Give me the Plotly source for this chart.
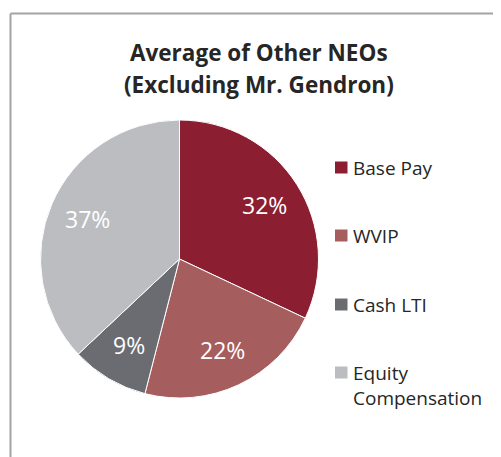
import math
import plotly.graph_objects as go

labels = ["Base Pay", "WVIP", "Cash LTI", "Equity Compensation"]
legend_text = ["Base Pay", "WVIP", "Cash LTI", "Equity<br>Compensation"]
values = [32, 22, 9, 37]
colors = ["#8B1F31", "#A65D5D", "#6B6C71", "#BCBDC1"]
title_lines = ["Average of Other NEOs", "(Excluding Mr. Gendron)"]

# page body has an 8px default margin; the figure fills the rest of the window
OFF = 8
W, H = 501 - OFF, 457 - OFF
FONT = "Open Sans, Lato, sans-serif"
TEXT = "#262626"

def px(x):
    return (x - OFF) / W

def py(y):
    return 1 - (y - OFF) / H

cx, cy, r = 179.5, 259, 139

fig = go.Figure(go.Pie(
    labels=labels,
    values=values,
    marker=dict(colors=colors, line=dict(color="white", width=1)),
    sort=False,
    direction="clockwise",
    rotation=0,
    textinfo="none",
    showlegend=False,
    hoverinfo="label+percent",
    domain=dict(x=[px(cx - r), px(cx + r)], y=[py(cy + r), py(cy - r)]),
))

shapes = [
    dict(type="line", xref="paper", yref="paper", x0=px(10.5), x1=px(520), y0=py(13.5), y1=py(13.5),
         line=dict(color="#A3A3A3", width=2)),
    dict(type="line", xref="paper", yref="paper", x0=px(10.5), x1=px(10.5), y0=py(13.5), y1=py(480),
         line=dict(color="#A3A3A3", width=2)),
]
annotations = []

# percentage labels placed along each slice's mid-angle
total = sum(values)
cum = 0
for v in values:
    mid = (cum + v / 2) / total * 2 * math.pi
    cum += v
    lx = cx + 0.72 * r * math.sin(mid)
    ly = cy - 0.72 * r * math.cos(mid)
    annotations.append(dict(text="%d%%" % round(v / total * 100), x=px(lx), y=py(ly),
                            xref="paper", yref="paper", showarrow=False,
                            xanchor="center", yanchor="middle",
                            font=dict(family=FONT, size=23, color="white")))

for t, y in zip(title_lines, [52, 84.5]):
    annotations.append(dict(text="<b>%s</b>" % t, x=px(259), y=py(y), xref="paper", yref="paper",
                            showarrow=False, xanchor="center", yanchor="middle",
                            font=dict(family=FONT, size=22.5, color=TEXT)))

leg_y = [167.5, 235.5, 304.5, 372.5]
for name, col, y in zip(legend_text, colors, leg_y):
    shapes.append(dict(type="rect", xref="paper", yref="paper", x0=px(335), x1=px(347.5),
                       y0=py(y + 6), y1=py(y - 6), fillcolor=col, line=dict(width=0)))
    annotations.append(dict(text=name, x=px(351), y=py(y - 15), xref="paper", yref="paper",
                            showarrow=False, xanchor="left", yanchor="top", align="left",
                            font=dict(family=FONT, size=19, color=TEXT)))

fig.update_layout(
    width=W, height=H,
    margin=dict(l=0, r=0, t=0, b=0),
    paper_bgcolor="white", plot_bgcolor="white",
    shapes=shapes, annotations=annotations,
)
fig.write_html("out.html")
